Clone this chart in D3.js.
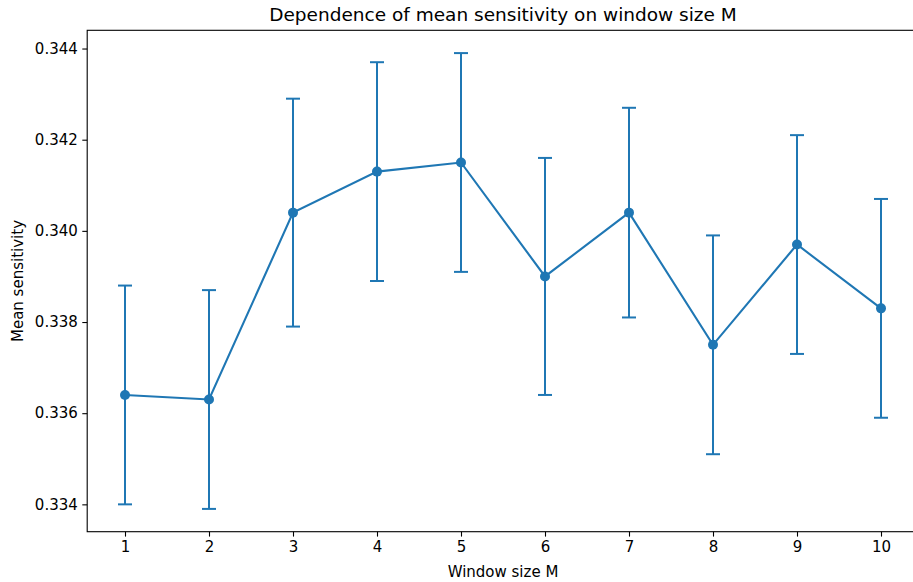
<!DOCTYPE html>
<html><head><meta charset="utf-8">
<script src="https://cdn.jsdelivr.net/npm/d3@7"></script>
<style>body{margin:0;background:#fff}svg{display:block}text{font-family:"DejaVu Sans",sans-serif;fill:#000}</style>
</head><body><svg id="c" width="913" height="582"></svg>
<script>
const windowSizes = [1,2,3,4,5,6,7,8,9,10];
const meanSensitivity = [0.3364,0.3363,0.3404,0.3413,0.3415,0.3390,0.3404,0.3375,0.3397,0.3383];
const errorValues = [0.0024,0.0024,0.0025,0.0024,0.0024,0.0026,0.0023,0.0024,0.0024,0.0024];
const yTicks = [0.334,0.336,0.338,0.340,0.342,0.344];

const svg = d3.select("#c");
const L = 87.2, R = 918.8, T = 30.3, B = 531.7;
const lo = d3.min(meanSensitivity.map((v,i)=>v-errorValues[i]));
const hi = d3.max(meanSensitivity.map((v,i)=>v+errorValues[i]));
const pad = (hi-lo)*0.05;
const x = d3.scaleLinear().domain([0.55,10.45]).range([L,R]);
const y = d3.scaleLinear().domain([lo-pad,hi+pad]).range([B,T]);
const col = "#1f77b4";
const fs = 15;

const gx = svg.append("g").attr("transform",`translate(0,${B})`)
  .call(d3.axisBottom(x).tickValues(windowSizes).tickFormat(d3.format("d")).tickSize(4.9).tickPadding(4.5));
const gy = svg.append("g").attr("transform",`translate(${L},0)`)
  .call(d3.axisLeft(y).tickValues(yTicks).tickFormat(d3.format(".3f")).tickSize(4.9).tickPadding(4.5));
[gx,gy].forEach(g=>{
  g.selectAll("path").remove();
  g.selectAll("line").attr("stroke","#000").attr("stroke-width",1.1);
  g.selectAll("text").style("font-size",fs+"px").style("font-family","DejaVu Sans").attr("fill","#000");
});
svg.append("rect").attr("x",L).attr("y",T).attr("width",R-L).attr("height",B-T)
  .attr("fill","none").attr("stroke","#000").attr("stroke-width",1.1);

const g = svg.append("g");
const cap = 7;
windowSizes.forEach((m,i)=>{
  const cx = x(m), y1 = y(meanSensitivity[i]+errorValues[i]), y0 = y(meanSensitivity[i]-errorValues[i]);
  g.append("line").attr("x1",cx).attr("x2",cx).attr("y1",y0).attr("y2",y1).attr("stroke",col).attr("stroke-width",2);
  [y0,y1].forEach(yy=>g.append("line").attr("x1",cx-cap).attr("x2",cx+cap).attr("y1",yy).attr("y2",yy).attr("stroke",col).attr("stroke-width",2));
});
g.append("path").datum(windowSizes.map((m,i)=>[m,meanSensitivity[i]]))
  .attr("d",d3.line().x(d=>x(d[0])).y(d=>y(d[1]))).attr("fill","none").attr("stroke",col).attr("stroke-width",2.1);
g.selectAll("circle").data(windowSizes).join("circle")
  .attr("cx",d=>x(d)).attr("cy",(d,i)=>y(meanSensitivity[i])).attr("r",5).attr("fill",col);

svg.append("text").attr("x",503).attr("y",21).attr("text-anchor","middle").style("font-size","18.5px")
  .text("Dependence of mean sensitivity on window size M");
svg.append("text").attr("x",503).attr("y",577).attr("text-anchor","middle").style("font-size",fs+"px").text("Window size M");
svg.append("text").attr("transform","translate(23,281) rotate(-90)").attr("text-anchor","middle").style("font-size",fs+"px").text("Mean sensitivity");
</script></body></html>
